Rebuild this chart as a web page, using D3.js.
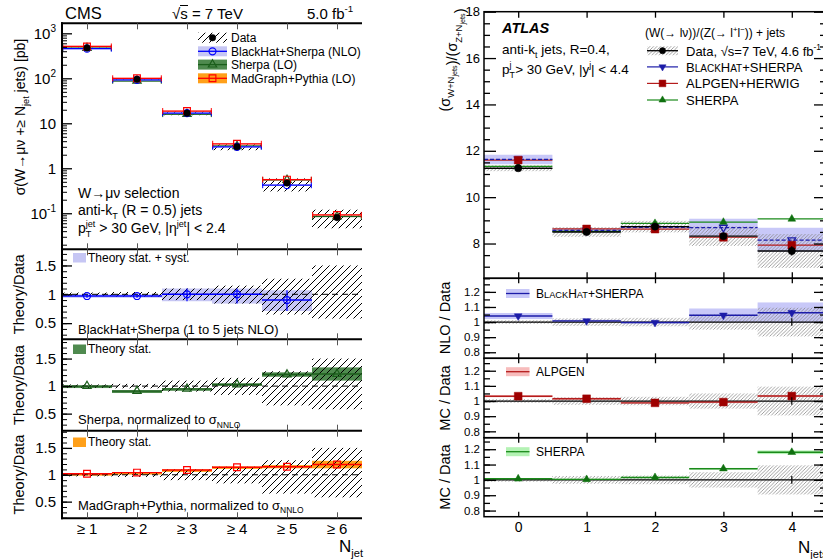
<!DOCTYPE html>
<html>
<head>
<meta charset="utf-8">
<script src="https://cdn.jsdelivr.net/npm/d3@7"></script>
<style>
  body { margin: 0; background: #fff; }
  svg { display: block; font-family: "Liberation Sans", Arial, sans-serif; }
</style>
</head>
<body>
<div id="chart"></div>
<script>
// ---------------- CMS (left figure) ----------------
const cmsBins = ["≥ 1", "≥ 2", "≥ 3", "≥ 4", "≥ 5", "≥ 6"];
const cmsData = [470, 95, 16.8, 3.0, 0.47, 0.080];
const cmsDataUp = [0.03, 0.04, 0.10, 0.15, 0.27, 0.50];   // relative uncertainty, up
const cmsDataDn = [0.03, 0.04, 0.10, 0.16, 0.35, 0.42];   // relative uncertainty, down
const cmsBlackhat = [455, 92, 16.8, 3.0, 0.42];
const cmsSherpa = [470, 88, 16.0, 3.1, 0.55, 0.085];
const cmsMadgraph = [510, 100, 18.7, 3.5, 0.56, 0.092];
const cmsBhRatio = [0.97, 0.97, 1.00, 1.00, 0.90];
const cmsBhLo = [0.94, 0.94, 0.88, 0.84, 0.71];
const cmsBhHi = [1.00, 1.00, 1.10, 1.10, 1.07];
const cmsSherpaRatio = [1.00, 0.91, 0.95, 1.03, 1.21, 1.22];
const cmsSherpaStat = [0.01, 0.01, 0.01, 0.02, 0.04, 0.12];
const cmsMgRatio = [1.02, 1.04, 1.09, 1.14, 1.15, 1.19];
const cmsMgStat = [0.01, 0.01, 0.01, 0.015, 0.03, 0.07];
const cmsLogTicks = [0.1, 1, 10, 100, 1000];
const cmsRatioTicks = [0.5, 1, 1.5];

// ---------------- ATLAS (right figure) ----------------
const atlasBins = [0, 1, 2, 3, 4];
const atlasData = [11.25, 8.50, 8.73, 8.32, 7.68];
const atlasDataLo = [11.12, 8.29, 8.48, 7.90, 6.95];
const atlasDataHi = [11.38, 8.71, 8.98, 8.74, 8.41];
const atlasDataStat = [0.04, 0.05, 0.06, 0.09, 0.20];
const atlasBh = [11.63, 8.57, 8.70, 8.69, 8.15];
const atlasBhLo = [11.42, 8.50, 8.64, 8.33, 7.65];
const atlasBhHi = [11.83, 8.63, 8.76, 9.07, 8.68];
const atlasAlpgen = [11.60, 8.63, 8.62, 8.27, 7.93];
const atlasSherpa = [11.33, 8.52, 8.87, 8.92, 9.06];
const atlasRelLo = [0.988, 0.975, 0.972, 0.950, 0.905];
const atlasRelHi = [1.012, 1.025, 1.028, 1.050, 1.095];
const atlasBhRatio = [1.040, 1.008, 0.997, 1.045, 1.062];
const atlasBhRatioLo = [1.020, 1.000, 0.990, 1.000, 0.995];
const atlasBhRatioHi = [1.060, 1.015, 1.003, 1.090, 1.130];
const atlasAlpRatio = [1.032, 1.015, 0.988, 0.993, 1.033];
const atlasSherpaRatio = [1.007, 1.003, 1.016, 1.073, 1.180];
const atlasSherpaStat = [0.005, 0.005, 0.005, 0.005, 0.012];
const atlasMainTicks = [8, 10, 12, 14, 16, 18];
const atlasRatioTicks = [0.8, 0.9, 1, 1.1, 1.2];

const svg = d3.select("#chart").append("svg").attr("width", 823).attr("height", 559);
const defs = svg.append("defs");

// hatch patterns
const hc = defs.append("pattern").attr("id", "hatchCms").attr("patternUnits", "userSpaceOnUse")
  .attr("width", 7).attr("height", 7);
hc.append("path").attr("d", "M0,7 L7,0 M-1,1 L1,-1 M6,8 L8,6").attr("stroke", "#000").attr("stroke-width", 1);
const ha = defs.append("pattern").attr("id", "hatchAtlas").attr("patternUnits", "userSpaceOnUse")
  .attr("width", 3.5).attr("height", 3.5);
ha.append("path").attr("d", "M0,3.5 L3.5,0 M-1,1 L1,-1 M2.5,4.5 L4.5,2.5").attr("stroke", "#8a8a8a").attr("stroke-width", 0.8);

defs.append("clipPath").attr("id", "clipCms").append("rect").attr("x", 62).attr("y", 23).attr("width", 300).attr("height", 496);
defs.append("clipPath").attr("id", "clipAtlas").append("rect").attr("x", 484).attr("y", 11.7).attr("width", 342).attr("height", 505);

// text with sub / superscripts
function rich(g, x, y, parts, size, anchor) {
  const t = g.append("text").attr("x", x).attr("y", y).attr("font-size", size);
  if (anchor) t.attr("text-anchor", anchor);
  let cur = 0, prev = null;
  parts.forEach(p => {
    const [s, k] = typeof p === "string" ? [p, "n"] : p;
    let off = 0, fs = size;
    if (k === "sub") { off = size * 0.3; fs = size * 0.65; }
    if (k === "sub2") { off = size * 0.5; fs = size * 0.5; }
    if (k === "sup" || k === "supb") { off = -size * 0.42; fs = size * 0.65; }
    if (k === "sc") { fs = size * 0.77; }
    const ts = t.append("tspan").attr("dy", off - cur).attr("font-size", fs).text(s);
    if (k === "supb" && prev) ts.attr("dx", -prev.node().getComputedTextLength());
    cur = off; prev = ts;
  });
  return t;
}
function vtext(g, x, y, parts, size) {
  return rich(g, 0, 0, parts, size, "middle").attr("transform", `translate(${x},${y}) rotate(-90)`);
}
function noDomain(s) { s.select(".domain").remove(); }
function yTicks(g, x, scale, major, minor, majLen, minLen, fmt, size, side) {
  const mk = side === "right" ? d3.axisRight : d3.axisLeft;
  g.append("g").attr("transform", `translate(${x},0)`)
    .call(mk(scale).tickValues(minor).tickSize(-minLen).tickFormat(""))
    .call(noDomain);
  const a = g.append("g").attr("transform", `translate(${x},0)`)
    .call(mk(scale).tickValues(major).tickSize(-majLen).tickPadding(4).tickFormat(fmt))
    .call(noDomain);
  a.attr("font-size", size).attr("font-family", null);
  return a;
}
function xTicks(g, scale, vals, yBottom, yTop, len, color) {
  g.append("g").attr("transform", `translate(0,${yBottom})`)
    .call(d3.axisBottom(scale).tickValues(vals).tickSize(-len).tickFormat("")).call(noDomain)
    .selectAll("line").attr("stroke", color);
  g.append("g").attr("transform", `translate(0,${yTop})`)
    .call(d3.axisTop(scale).tickValues(vals).tickSize(-len).tickFormat("")).call(noDomain)
    .selectAll("line").attr("stroke", color);
}
function hline(g, x0, x1, y, color, w, dash) {
  const l = g.append("line").attr("x1", x0).attr("x2", x1).attr("y1", y).attr("y2", y)
    .attr("stroke", color).attr("stroke-width", w);
  if (dash) l.attr("stroke-dasharray", dash);
  return l;
}
function vline(g, x, y0, y1, color, w) {
  return g.append("line").attr("x1", x).attr("x2", x).attr("y1", y0).attr("y2", y1)
    .attr("stroke", color).attr("stroke-width", w);
}
function marker(g, type, x, y, size, color, open, rot) {
  return g.append("path").attr("d", d3.symbol(type, size)())
    .attr("transform", `translate(${x},${y})` + (rot ? ` rotate(${rot})` : ""))
    .attr("fill", open ? "none" : color).attr("stroke", color).attr("stroke-width", open ? 1.2 : 0.5);
}

// =====================================================================
// CMS
// =====================================================================
const cms = svg.append("g");
const cmsX = d3.scaleBand(cmsBins, [62, 362]);
const bw = cmsX.bandwidth();
const cmid = c => cmsX(c) + bw / 2;
const cmsY = d3.scaleLog([0.0158, 1670], [249.3, 23.3]);
const cmsPanels = [
  { y0: 249.3, y1: 339.3, dom: [0.22, 1.78] },
  { y0: 339.3, y1: 430.7, dom: [0.19, 1.85] },
  { y0: 430.7, y1: 518.3, dom: [0.19, 1.82] }
];
cmsPanels.forEach(p => { p.y = d3.scaleLinear(p.dom, [p.y1, p.y0]); });
const cp = cms.append("g").attr("clip-path", "url(#clipCms)");

const cBlue = "#0000ff", cBlueBand = "#c6c6f4";
const cGreen = "#1b5e1b", cGreenBand = "#4f8a4f";
const cRed = "#ff0000", cOrange = "#ffa01a";

// main panel: data hatch
cmsBins.forEach((c, i) => {
  const top = cmsY(cmsData[i] * (1 + cmsDataUp[i])), bot = cmsY(cmsData[i] * (1 - cmsDataDn[i]));
  cp.append("rect").attr("x", cmsX(c)).attr("width", bw).attr("y", top).attr("height", bot - top)
    .attr("fill", "url(#hatchCms)");
});
function cmsMainSeries(vals, color, band) {
  vals.forEach((v, i) => {
    const c = cmsBins[i], x0 = cmsX(c), y = cmsY(v);
    const t = cmsY(v * 1.04), b = cmsY(v * 0.96);
    cp.append("rect").attr("x", x0).attr("width", bw).attr("y", t).attr("height", b - t).attr("fill", band).attr("opacity", 0.8);
    hline(cp, x0, x0 + bw, y, color, 1.3);
    vline(cp, x0 + 0.7, y - 3, y + 3, color, 1);
    vline(cp, x0 + bw - 0.7, y - 3, y + 3, color, 1);
  });
}
cmsMainSeries(cmsSherpa, cGreen, cGreenBand);
cmsMainSeries(cmsBlackhat, cBlue, cBlueBand);
cmsMainSeries(cmsMadgraph, cRed, "#ffb8a8");
cmsSherpa.forEach((v, i) => marker(cp, d3.symbolTriangle, cmid(cmsBins[i]), cmsY(v), 30, cGreen, true));
cmsBlackhat.forEach((v, i) => marker(cp, d3.symbolCircle, cmid(cmsBins[i]), cmsY(v), 38, cBlue, true));
cmsMadgraph.forEach((v, i) => marker(cp, d3.symbolSquare, cmid(cmsBins[i]), cmsY(v), 45, cRed, true));
cmsData.forEach((v, i) => marker(cp, d3.symbolCircle, cmid(cmsBins[i]), cmsY(v), 34, "#000", false));

// ratio panels
function cmsRatioPanel(p, ratio, lo, hi, color, band, sym, errBars) {
  ratio.forEach((r, i) => {
    const c = cmsBins[i];
    const t = p.y(hi[i]), b = p.y(lo[i]);
    cp.append("rect").attr("x", cmsX(c)).attr("width", bw).attr("y", t).attr("height", Math.max(b - t, 2.5)).attr("fill", band);
  });
  cmsBins.forEach((c, i) => {
    const t = p.y(1 + cmsDataUp[i]), b = p.y(1 - cmsDataDn[i]);
    cp.append("rect").attr("x", cmsX(c)).attr("width", bw).attr("y", t).attr("height", b - t).attr("fill", "url(#hatchCms)");
  });
  hline(cp, 62, 362, p.y(1), "#000", 1, "6,4");
  ratio.forEach((r, i) => {
    const c = cmsBins[i], x0 = cmsX(c);
    hline(cp, x0, x0 + bw, p.y(r), color, 1.4);
    if (errBars) vline(cp, cmid(c), p.y(hi[i]), p.y(lo[i]), color, 1.2);
    marker(cp, sym, cmid(c), p.y(r), sym === d3.symbolCircle ? 38 : (sym === d3.symbolSquare ? 45 : 30), color, true);
  });
}
cmsRatioPanel(cmsPanels[0], cmsBhRatio, cmsBhLo, cmsBhHi, cBlue, cBlueBand, d3.symbolCircle, true);
cmsRatioPanel(cmsPanels[1], cmsSherpaRatio, cmsSherpaRatio.map((r, i) => r - cmsSherpaStat[i]),
  cmsSherpaRatio.map((r, i) => r + cmsSherpaStat[i]), cGreen, cGreenBand, d3.symbolTriangle, false);
cmsRatioPanel(cmsPanels[2], cmsMgRatio, cmsMgRatio.map((r, i) => r - cmsMgStat[i]),
  cmsMgRatio.map((r, i) => r + cmsMgStat[i]), cRed, cOrange, d3.symbolSquare, false);

// CMS frame and axes
[23.3, 249.3, 339.3, 430.7, 518.3].forEach(y => hline(cms, 61, 362, y, "#000", 2));
vline(cms, 62, 22.3, 519.3, "#000", 2);

const cmsAx = cms.append("g");
const cmsTickX = d3.scaleLinear([0, 6], [62, 362]);
const cmsTickVals = [0.5, 1.5, 2.5, 3.5, 4.5, 5.5];
xTicks(cmsAx, cmsTickX, cmsTickVals, 249.3, 23.3, 6, "#555");
cmsPanels.forEach(p => xTicks(cmsAx, cmsTickX, cmsTickVals, p.y1, p.y0, 6, "#555"));

const logMinor = [];
[-2, -1, 0, 1, 2, 3].forEach(e => d3.range(2, 10).forEach(m => {
  const v = m * Math.pow(10, e);
  if (v > 0.0158 && v < 1670) logMinor.push(v);
}));
const logAx = yTicks(cmsAx, 62, cmsY, cmsLogTicks, logMinor, 10, 5, d => "", 15);
logAx.selectAll(".tick text").attr("x", -6).each(function (d) {
  const t = d3.select(this);
  const exp = Math.round(Math.log10(d));
  if (exp === 0) { t.append("tspan").text("1"); return; }
  if (exp === 1) { t.append("tspan").text("10"); return; }
  t.append("tspan").text("10");
  t.append("tspan").attr("dy", -7).attr("font-size", 10).text(exp < 0 ? "-1" : String(exp));
});
logAx.selectAll(".tick line").attr("stroke-width", 1.3);
cmsPanels.forEach(p => {
  const minor = d3.range(0.2, 1.85, 0.1).filter(v => v > p.dom[0] && v < p.dom[1]);
  const a = yTicks(cmsAx, 62, p.y, cmsRatioTicks, minor, 10, 5, d3.format(""), 15);
  a.selectAll(".tick text").attr("x", -6);
  a.selectAll(".tick line").attr("stroke-width", 1.3);
});
// x labels
cms.append("g").attr("transform", "translate(0,518.3)")
  .call(d3.axisBottom(cmsX).tickSize(0).tickPadding(5)).call(noDomain)
  .attr("font-size", 15).attr("font-family", null);
rich(cms, 339, 552, ["N", ["jet", "sub"]], 17);

// CMS texts
cms.append("text").attr("x", 65).attr("y", 18.5).attr("font-size", 16.5).text("CMS");
cms.append("text").attr("x", 172).attr("y", 18.5).attr("font-size", 15).text("√s = 7 TeV");
hline(cms, 180, 188, 5.5, "#000", 1);
rich(cms, 307, 18.5, ["5.0 fb", ["-1", "sup"]], 15);
vtext(cms, 25, 117, ["σ(W→μν +≥ N", ["jet", "sub"], " jets) [pb]"], 14);
cmsPanels.forEach(p => vtext(cms, 24, (p.y0 + p.y1) / 2, ["Theory/Data"], 14.5));

rich(cms, 78, 198, ["W→μν selection"], 14);
rich(cms, 78, 215, ["anti-k", ["T", "sub"], " (R = 0.5) jets"], 14);
rich(cms, 78, 233, ["p", ["T", "sub"], ["jet", "supb"], " > 30 GeV, |η", ["jet", "sup"], "| < 2.4"], 14);

// legend (main)
const lg = cms.append("g");
const lgRows = [37.7, 51.3, 64.6, 78.3];
lg.append("rect").attr("x", 198).attr("y", lgRows[0] - 5).attr("width", 29).attr("height", 10).attr("fill", "url(#hatchCms)");
marker(lg, d3.symbolCircle, 212.5, lgRows[0], 34, "#000", false);
[[cBlueBand, cBlue, d3.symbolCircle, 38], [cGreenBand, cGreen, d3.symbolTriangle, 30], [cOrange, cRed, d3.symbolSquare, 45]]
  .forEach(([band, col, sym, sz], k) => {
    const y = lgRows[k + 1];
    lg.append("rect").attr("x", 198).attr("y", y - 5).attr("width", 29).attr("height", 10).attr("fill", band);
    hline(lg, 198, 227, y, col, 1.3);
    marker(lg, sym, 212.5, y, sz, col, true);
  });
["Data", "BlackHat+Sherpa (NLO)", "Sherpa (LO)", "MadGraph+Pythia (LO)"].forEach((s, k) =>
  lg.append("text").attr("x", 231).attr("y", lgRows[k] + 4.5).attr("font-size", 12).text(s));

// ratio panel legends
cms.append("rect").attr("x", 73).attr("y", 253).attr("width", 13).attr("height", 9.5).attr("fill", cBlueBand);
cms.append("text").attr("x", 88).attr("y", 261.5).attr("font-size", 12).text("Theory stat. + syst.");
cms.append("text").attr("x", 78).attr("y", 333.5).attr("font-size", 13).text("BlackHat+Sherpa (1 to 5 jets NLO)");
cms.append("rect").attr("x", 73).attr("y", 344.5).attr("width", 13).attr("height", 9.5).attr("fill", cGreenBand);
cms.append("text").attr("x", 88).attr("y", 353).attr("font-size", 12).text("Theory stat.");
rich(cms, 78, 424, ["Sherpa, normalized to σ", ["NNLO", "sub"]], 13);
cms.append("rect").attr("x", 73).attr("y", 437.5).attr("width", 13).attr("height", 9.5).attr("fill", cOrange);
cms.append("text").attr("x", 88).attr("y", 446).attr("font-size", 12).text("Theory stat.");
rich(cms, 78, 509.5, ["MadGraph+Pythia, normalized to σ", ["NNLO", "sub"]], 13);

// =====================================================================
// ATLAS
// =====================================================================
const at = svg.append("g");
const ap = at.append("g").attr("clip-path", "url(#clipAtlas)");
const atlasX = d3.scaleLinear([-0.5, 4.5], [484, 826]);
const abw = atlasX(1) - atlasX(0);
const atlasY = d3.scaleLinear([6.5, 18], [278.3, 11.7]);
const atlasPanels = [
  { y0: 278.3, y1: 358.3, dom: [0.76, 1.29] },
  { y0: 358.3, y1: 437.7, dom: [0.758, 1.282] },
  { y0: 437.7, y1: 516.7, dom: [0.76, 1.275] }
];
atlasPanels.forEach(p => { p.y = d3.scaleLinear(p.dom, [p.y1, p.y0]); });

const aBlue = "#1c1ca8", aBlueBand = "#c8c8f8";
const aRed = "#b51c1c", aRedMk = "#9e0000", aRedBand = "#f7bcbc";
const aGreen = "#1a8a1a", aGreenMk = "#0f700f", aGreenBand = "#b4f2b4";

function binRect(g, i, yTop, yBot, fill) {
  g.append("rect").attr("x", atlasX(atlasBins[i]) - abw / 2).attr("width", abw)
    .attr("y", yTop).attr("height", Math.max(yBot - yTop, 1.5)).attr("fill", fill);
}
function binLine(g, i, y, color, w, dash) {
  return hline(g, atlasX(atlasBins[i]) - abw / 2, atlasX(atlasBins[i]) + abw / 2, y, color, w, dash);
}

// main panel
atlasBins.forEach((b, i) => binRect(ap, i, atlasY(atlasBhHi[i]), atlasY(atlasBhLo[i]), aBlueBand));
atlasBins.forEach((b, i) => binRect(ap, i, atlasY(atlasDataHi[i]), atlasY(atlasDataLo[i]), "url(#hatchAtlas)"));
atlasBins.forEach((b, i) => {
  binLine(ap, i, atlasY(atlasSherpa[i]), aGreen, 1.3);
  binLine(ap, i, atlasY(atlasAlpgen[i]), aRed, 1.2);
  binLine(ap, i, atlasY(atlasBh[i]), aBlue, 1.3, "4,2");
  binLine(ap, i, atlasY(atlasData[i]), "#000", 1.4);
});
atlasBins.forEach((b, i) => {
  const x = atlasX(b);
  marker(ap, d3.symbolTriangle, x, atlasY(atlasSherpa[i]), 26, aGreenMk, false);
  marker(ap, d3.symbolTriangle, x, atlasY(atlasBh[i]), 26, aBlue, true, 180);
  marker(ap, d3.symbolSquare, x, atlasY(atlasAlpgen[i]), 60, aRedMk, false);
  vline(ap, x, atlasY(atlasData[i] + atlasDataStat[i]), atlasY(atlasData[i] - atlasDataStat[i]), "#000", 1.2);
  marker(ap, d3.symbolCircle, x, atlasY(atlasData[i]), 42, "#000", false);
});

// ratio panels
function atlasRatio(p, ratio, lo, hi, color, mk, band, sym, size, rot) {
  atlasBins.forEach((b, i) => binRect(ap, i, p.y(hi[i]), p.y(lo[i]), band));
  atlasBins.forEach((b, i) => binRect(ap, i, p.y(atlasRelHi[i]), p.y(atlasRelLo[i]), "url(#hatchAtlas)"));
  hline(ap, 484, 826, p.y(1), "#000", 1.3);
  atlasBins.forEach((b, i) => {
    binLine(ap, i, p.y(ratio[i]), color, 1.4);
    marker(ap, sym, atlasX(b), p.y(ratio[i]), size, mk, false, rot);
  });
  vline(ap, atlasX(4), p.y(1.025), p.y(0.975), "#000", 1.2);
}
atlasRatio(atlasPanels[0], atlasBhRatio, atlasBhRatioLo, atlasBhRatioHi, aBlue, aBlue, aBlueBand, d3.symbolTriangle, 26, 180);
vline(ap, atlasX(4), atlasPanels[0].y(1.08), atlasPanels[0].y(1.045), aBlue, 1.2);
atlasRatio(atlasPanels[1], atlasAlpRatio, atlasAlpRatio.map(r => r - 0.007), atlasAlpRatio.map(r => r + 0.007),
  aRed, aRedMk, aRedBand, d3.symbolSquare, 60);
atlasRatio(atlasPanels[2], atlasSherpaRatio, atlasSherpaRatio.map((r, i) => r - atlasSherpaStat[i]),
  atlasSherpaRatio.map((r, i) => r + atlasSherpaStat[i]), aGreen, aGreenMk, aGreenBand, d3.symbolTriangle, 26);

// frames
[[11.7, 278.3], [278.3, 358.3], [358.3, 437.7], [437.7, 516.7]].forEach(([y0, y1]) =>
  at.append("rect").attr("x", 484).attr("y", y0).attr("width", 342).attr("height", y1 - y0)
    .attr("fill", "none").attr("stroke", "#000").attr("stroke-width", 1.5));

const aAx = at.append("g");
xTicks(aAx, atlasX, atlasBins, 278.3, 11.7, 6, "#000");
atlasPanels.forEach(p => xTicks(aAx, atlasX, atlasBins, p.y1, p.y0, 5, "#000"));
const mainMinor = d3.range(6.5, 18.01, 0.5).filter(v => v % 2 !== 0);
yTicks(aAx, 484, atlasY, atlasMainTicks, mainMinor, 12, 6, d3.format("d"), 13);
yTicks(aAx, 826, atlasY, atlasMainTicks, mainMinor, 12, 6, d => "", 13, "right");
atlasPanels.forEach(p => {
  const minor = [0.8, 0.85, 0.9, 0.95, 1, 1.05, 1.1, 1.15, 1.2, 1.25].filter(v => v > p.dom[0] && v < p.dom[1]);
  yTicks(aAx, 484, p.y, atlasRatioTicks, minor, 12, 6, d3.format(""), 11.5);
  yTicks(aAx, 826, p.y, atlasRatioTicks, minor, 12, 6, d => "", 11.5, "right");
});
aAx.selectAll("line").attr("stroke-width", 1.3);
at.append("g").attr("transform", "translate(0,516.7)")
  .call(d3.axisBottom(atlasX).tickValues(atlasBins).tickSize(0).tickPadding(5).tickFormat(d3.format("d"))).call(noDomain)
  .attr("font-size", 14).attr("font-family", null);
rich(at, 798, 553, ["N", ["jets", "sub"]], 17);

// ATLAS texts
at.append("text").attr("x", 502).attr("y", 33).attr("font-size", 14.5).attr("font-weight", "bold")
  .attr("font-style", "italic").text("ATLAS");
rich(at, 502, 53.5, ["anti-k", ["t", "sub"], " jets, R=0.4,"], 13.5);
rich(at, 502, 74, ["p", ["T", "sub"], ["j", "supb"], " > 30 GeV, |y", ["j", "sup"], "| < 4.4"], 13.5);
vtext(at, 450, 60, ["(σ", ["W+N", "sub"], ["jets", "sub2"], ["", "n"], ")/(σ", ["Z+N", "sub"], ["jets", "sub2"], ["", "n"], ")"], 14.5);
vtext(at, 450, 318, ["NLO / Data"], 14.5);
vtext(at, 450, 398, ["MC / Data"], 14.5);
vtext(at, 450, 477, ["MC / Data"], 14.5);

// legend (main)
const al = at.append("g");
rich(al, 645, 37, ["(W(→ lν))/(Z(→ l", ["+", "sup"], "l", ["−", "sup"], ")) + jets"], 12);
const alRows = [50.7, 66.9, 83.4, 100];
al.append("rect").attr("x", 647).attr("y", alRows[0] - 4.5).attr("width", 31).attr("height", 9).attr("fill", "url(#hatchAtlas)");
hline(al, 647, 678, alRows[0], "#000", 1.3);
marker(al, d3.symbolCircle, 662.5, alRows[0], 30, "#000", false);
hline(al, 647, 678, alRows[1], aBlue, 1.2);
marker(al, d3.symbolTriangle, 662.5, alRows[1], 22, aBlue, false, 180);
hline(al, 647, 678, alRows[2], aRed, 1.2);
marker(al, d3.symbolSquare, 662.5, alRows[2], 45, aRedMk, false);
hline(al, 647, 678, alRows[3], aGreen, 1.2);
marker(al, d3.symbolTriangle, 662.5, alRows[3], 22, aGreenMk, false);
rich(al, 686, alRows[0] + 5, ["Data, √s=7 TeV, 4.6 fb", ["-1", "sup"]], 13);
rich(al, 686, alRows[1] + 5, ["B", ["LACK", "sc"], "H", ["AT", "sc"], "+SHERPA"], 13);
rich(al, 686, alRows[2] + 5, ["ALPGEN+HERWIG"], 13);
rich(al, 686, alRows[3] + 5, ["SHERPA"], 13);

// ratio legends
[[293.5, aBlueBand, aBlue, ["B", ["LACK", "sc"], "H", ["AT", "sc"], "+SHERPA"]],
 [371.7, aRedBand, aRed, ["ALPGEN"]],
 [451.7, aGreenBand, aGreen, ["SHERPA"]]].forEach(([y, band, col, parts]) => {
  at.append("rect").attr("x", 506).attr("y", y - 4.5).attr("width", 23.5).attr("height", 9).attr("fill", band);
  hline(at, 506, 529.5, y, col, 1.3);
  rich(at, 536, y + 4.5, parts, 12);
});
</script>
</body>
</html>
